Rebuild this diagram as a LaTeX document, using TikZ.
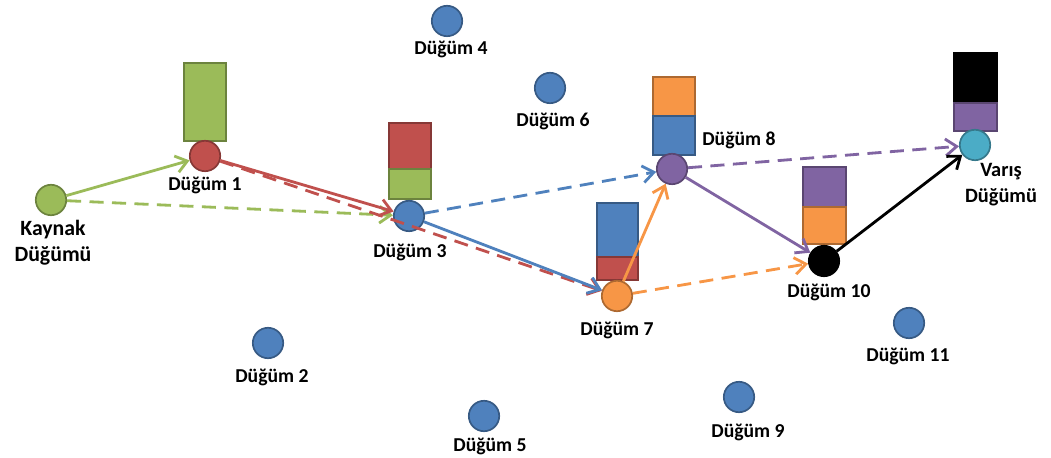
\documentclass[tikz,border=0pt]{standalone}
\usepackage{fontspec}
\setmainfont{Carlito}
\usetikzlibrary{arrows.meta}
\definecolor{ogreen}{HTML}{9BBB59}
\definecolor{ored}{HTML}{C0504D}
\definecolor{oblue}{HTML}{4F81BD}
\definecolor{oorange}{HTML}{F79646}
\definecolor{opurple}{HTML}{8064A2}
\definecolor{ocyan}{HTML}{4BACC6}
\tikzset{
  dugum/.style={circle, draw=#1!70!black, fill=#1, line width=1.2pt,
    minimum size=0.76cm, inner sep=0pt},
  etiket/.style={font=\bfseries\fontsize{14}{19}\selectfont, inner sep=0pt,
    align=center},
  kutu/.style={fill=#1, draw=#1!70!black, line width=1pt},
  yol/.style={draw=#1, line width=2pt,
    -{Straight Barb[length=2.8mm, width=4.2mm]}},
  kesik/.style={yol=#1, dash pattern=on 10pt off 6pt}
}
\begin{document}
\begin{tikzpicture}[x=0.025cm, y=-0.025cm]
   \useasboundingbox (0,0) rectangle (1051,458);
   % paket kuyruklari
   \filldraw[kutu=ogreen]  (184,63)  rectangle (226,141);
   \filldraw[kutu=ored]    (389,123) rectangle (431,169);
   \filldraw[kutu=ogreen]  (389,169) rectangle (431,199);
   \filldraw[kutu=oblue]   (597,203) rectangle (638,257);
   \filldraw[kutu=ored]    (597,257) rectangle (638,280);
   \filldraw[kutu=oorange] (653,77)  rectangle (695,116);
   \filldraw[kutu=oblue]   (653,116) rectangle (695,155);
   \filldraw[kutu=opurple] (803,167) rectangle (846,207);
   \filldraw[kutu=oorange] (803,207) rectangle (846,244);
   \filldraw[kutu=black]   (954,53)  rectangle (997,103);
   \filldraw[kutu=opurple] (954,103) rectangle (997,131);
   % dugumler
   \node[dugum=ogreen]  (k)   at (51,200)  {};
   \node[dugum=ored]    (d1)  at (205,156) {};
   \node[dugum=oblue]   (d2)  at (268,343) {};
   \node[dugum=oblue]   (d3)  at (409,216) {};
   \node[dugum=oblue]   (d4)  at (447,21)  {};
   \node[dugum=oblue]   (d5)  at (484,416) {};
   \node[dugum=oblue]   (d6)  at (550,88)  {};
   \node[dugum=oorange] (d7)  at (617,296) {};
   \node[dugum=opurple] (d8)  at (672,169) {};
   \node[dugum=oblue]   (d9)  at (739,397) {};
   \node[dugum=black]   (d10) at (824,261) {};
   \node[dugum=oblue]   (d11) at (909,323) {};
   \node[dugum=ocyan]   (v)   at (975,145) {};
   % etiketler (cok satirlilarda base = son satir)
   \node[etiket, font=\bfseries\fontsize{15.5}{19}\selectfont, anchor=base]
      (ek) at (53,262) {Kaynak\\Düğümü};
   \node[etiket, anchor=base] (e1)   at (205,191) {Düğüm 1};
   \node[etiket, anchor=base] (e2)   at (272,382) {Düğüm 2};
   \node[etiket, anchor=base] (e3)   at (410,258) {Düğüm 3};
   \node[etiket, anchor=base] (e4)   at (451,55)  {Düğüm 4};
   \node[etiket, anchor=base] (e5)   at (490,451) {Düğüm 5};
   \node[etiket, anchor=base] (e6)   at (553,127) {Düğüm 6};
   \node[etiket, anchor=base] (e7)   at (617,335) {Düğüm 7};
   \node[etiket, anchor=base west] (e8) at (702,146) {Düğüm 8};
   \node[etiket, anchor=base] (e9)   at (748,437) {Düğüm 9};
   \node[etiket, anchor=base] (e10)  at (829,297) {Düğüm 10};
   \node[etiket, anchor=base] (e11)  at (908,361) {Düğüm 11};
   \node[etiket, font=\bfseries\fontsize{14.5}{19}\selectfont, anchor=base]
      (ev) at (1001,203) {Varış\\Düğümü};
   % yollar
   \draw[yol=ogreen]    (k)   -- (d1);
   \draw[kesik=ogreen]  (k)   -- (d3);
   \draw[yol=ored]      (d1)  -- (d3);
   \draw[kesik=ored]    (d1)  -- (d7);
   \draw[yol=oblue]     (d3)  -- (d7);
   \draw[kesik=oblue]   (d3)  -- (d8);
   \draw[yol=oorange]   (d7)  -- (d8);
   \draw[kesik=oorange] (d7)  -- (d10);
   \draw[yol=opurple]   (d8)  -- (d10);
   \draw[kesik=opurple] (d8)  -- (v);
   \draw[yol=black]     (d10) -- (v);
\end{tikzpicture}
\end{document}
